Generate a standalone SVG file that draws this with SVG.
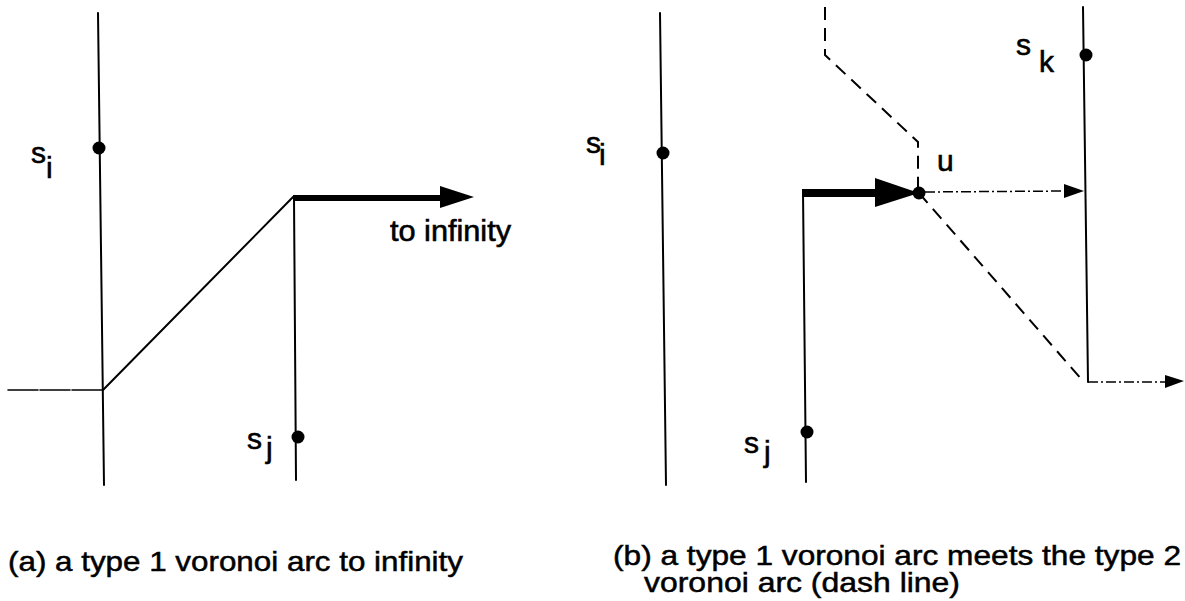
<svg xmlns="http://www.w3.org/2000/svg" width="1185" height="601" viewBox="0 0 1185 601">
<style>
.ln{stroke:#000;stroke-width:2;fill:none;stroke-linecap:round}
.thk{stroke:#000;fill:none}
.dash{stroke:#000;stroke-width:2;fill:none;stroke-dasharray:13 8}
.dot{stroke:#000;stroke-width:1.5;fill:none;stroke-dasharray:10 3 2 3}
.head{fill:#000}
.site{fill:#000}
.lbl{font-family:"Liberation Sans",Arial,Helvetica,sans-serif;font-size:30px;fill:#000;stroke:#000;stroke-width:0.6}
.cap{font-family:"Liberation Sans",Arial,Helvetica,sans-serif;font-size:28px;fill:#000;stroke:#000;stroke-width:0.5}
</style>
<rect width="1185" height="601" fill="#fff"/>
<g id="connectors">
  <!-- panel (a) -->
  <line class="ln" x1="98" y1="13" x2="104" y2="485"/>
  <line class="ln" x1="8" y1="390" x2="103" y2="390" style="stroke-width:1.6;stroke-dasharray:30 2"/>
  <line class="ln" x1="103" y1="390" x2="293" y2="197"/>
  <line class="ln" x1="294" y1="197" x2="296" y2="480"/>
  <line class="thk" x1="293" y1="198" x2="445" y2="198" stroke-width="6"/>
  <polygon class="head" points="440,186 474,197 440,208"/>
  <!-- panel (b) -->
  <line class="ln" x1="660" y1="13" x2="666" y2="485"/>
  <line class="ln" x1="803" y1="191" x2="806" y2="482"/>
  <line class="thk" x1="802" y1="193" x2="880" y2="193" stroke-width="8"/>
  <polygon class="head" points="875,178 919,193 875,207"/>
  <polyline class="dash" points="825,7 825,55 918,142 918,190"/>
  <line class="dash" x1="919" y1="193" x2="1083" y2="381"/>
  <line class="dot" x1="925" y1="192" x2="1066" y2="191"/>
  <polygon class="head" points="1064,184 1084,191 1064,198"/>
  <line class="ln" x1="1083" y1="7" x2="1088" y2="382"/>
  <line class="dot" x1="1088" y1="382" x2="1168" y2="382"/>
  <polygon class="head" points="1165,375 1184,381 1165,388"/>
</g>
<g id="a-si">
  <circle class="site" cx="99" cy="148" r="6.5"/>
  <text class="lbl" x="31" y="163">s</text>
  <text class="lbl" x="46" y="178">i</text>
</g>
<g id="a-sj">
  <circle class="site" cx="298" cy="437" r="6.5"/>
  <text class="lbl" x="247" y="449">s</text>
  <text class="lbl" x="266" y="458">j</text>
</g>
<g id="a-label">
  <text class="lbl" x="390" y="241" textLength="121" lengthAdjust="spacingAndGlyphs">to infinity</text>
</g>
<g id="b-si">
  <circle class="site" cx="663" cy="153" r="6.5"/>
  <text class="lbl" x="586" y="153">s</text>
  <text class="lbl" x="599" y="165">i</text>
</g>
<g id="b-sj">
  <circle class="site" cx="807" cy="432" r="6.5"/>
  <text class="lbl" x="744" y="453">s</text>
  <text class="lbl" x="764" y="462">j</text>
</g>
<g id="b-sk">
  <circle class="site" cx="1086" cy="55" r="6.5"/>
  <text class="lbl" x="1016" y="55">s</text>
  <text class="lbl" x="1039" y="72">k</text>
</g>
<g id="b-u">
  <circle class="site" cx="919" cy="193" r="6.5"/>
  <text class="lbl" x="937" y="171">u</text>
</g>
<g id="captions">
  <text class="cap" x="8" y="571" textLength="455" lengthAdjust="spacingAndGlyphs">(a) a type 1 voronoi arc to infinity</text>
  <text class="cap" x="613" y="565" textLength="568" lengthAdjust="spacingAndGlyphs">(b) a type 1 voronoi arc meets the type 2</text>
  <text class="cap" x="644" y="592" textLength="316" lengthAdjust="spacingAndGlyphs">voronoi arc (dash line)</text>
</g>
</svg>
